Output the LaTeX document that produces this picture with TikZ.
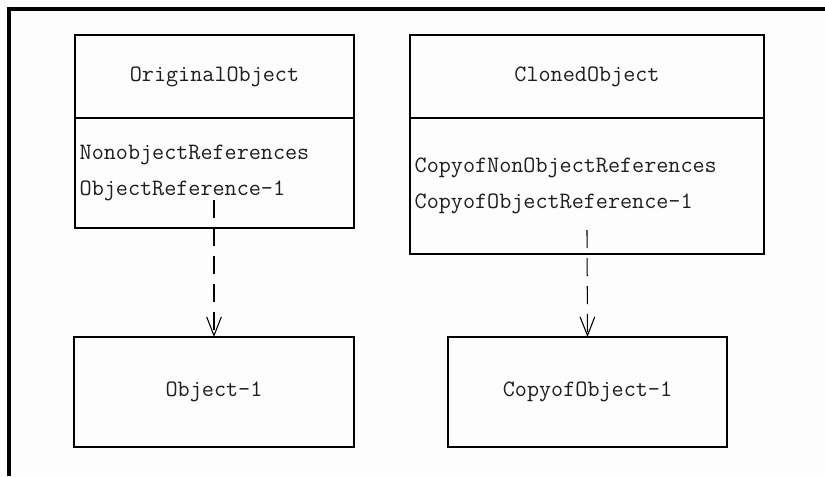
\documentclass[tikz,border=0pt]{standalone}
\usetikzlibrary{arrows.meta, positioning}
\definecolor{inkblk}{HTML}{1E1E1E}
\definecolor{paper}{HTML}{FDFDFD}
\newcommand{\umlfont}{\fontsize{17.6}{27.4}\selectfont\ttfamily}

\begin{document}
\begin{tikzpicture}[x=0.75pt, y=-0.75pt,
  classbox/.style={draw=black, line width=1.5pt, inner sep=0pt, outer sep=0pt, font=\umlfont, text=inkblk},
  classbody/.style={classbox, align=left, inner xsep=3.5pt, inner ysep=0pt},
  refarrow/.style={line width=0.8pt, dash pattern=on 13.5pt off 7.5pt,
    -{Straight Barb[length=14pt, width=11pt, line width=0.8pt]}}]

% Background and frame
\useasboundingbox (0,0) rectangle (825,476);
\fill[paper] (0,0) rectangle (825,476);
\draw[line width=3pt] (9,476) -- (9,9) -- (825,9);

% Original object
\node[classbox, minimum width=209.25pt, minimum height=62.25pt] (orighead) at (214.5,76.5) {OriginalObject};
\node[classbody, below=0pt of orighead, text width=202.25pt, minimum height=82.5pt] (origbody)
  {NonobjectReferences\\ObjectReference-1};

% Cloned object
\node[classbox, minimum width=265.5pt, minimum height=62.25pt] (clonehead) at (587,76.5) {ClonedObject};
\node[classbody, below=0pt of clonehead, text width=258.5pt, minimum height=102pt] (clonebody)
  {CopyofNonObjectReferences\\CopyofObjectReference-1};

% Referenced objects
\node[classbox, minimum width=210pt, minimum height=82.5pt] (objone) at (214,392) {Object-1};
\node[classbox, minimum width=209.25pt, minimum height=82.5pt] (copyobj) at (587.5,392) {CopyofObject-1};

% References
\coordinate (origref) at (214,200);
\coordinate (cloneref) at (587,230);
\draw[refarrow] (origref) -- (objone.north);
\draw[refarrow] (cloneref) -- (copyobj.north);

\end{tikzpicture}
\end{document}
